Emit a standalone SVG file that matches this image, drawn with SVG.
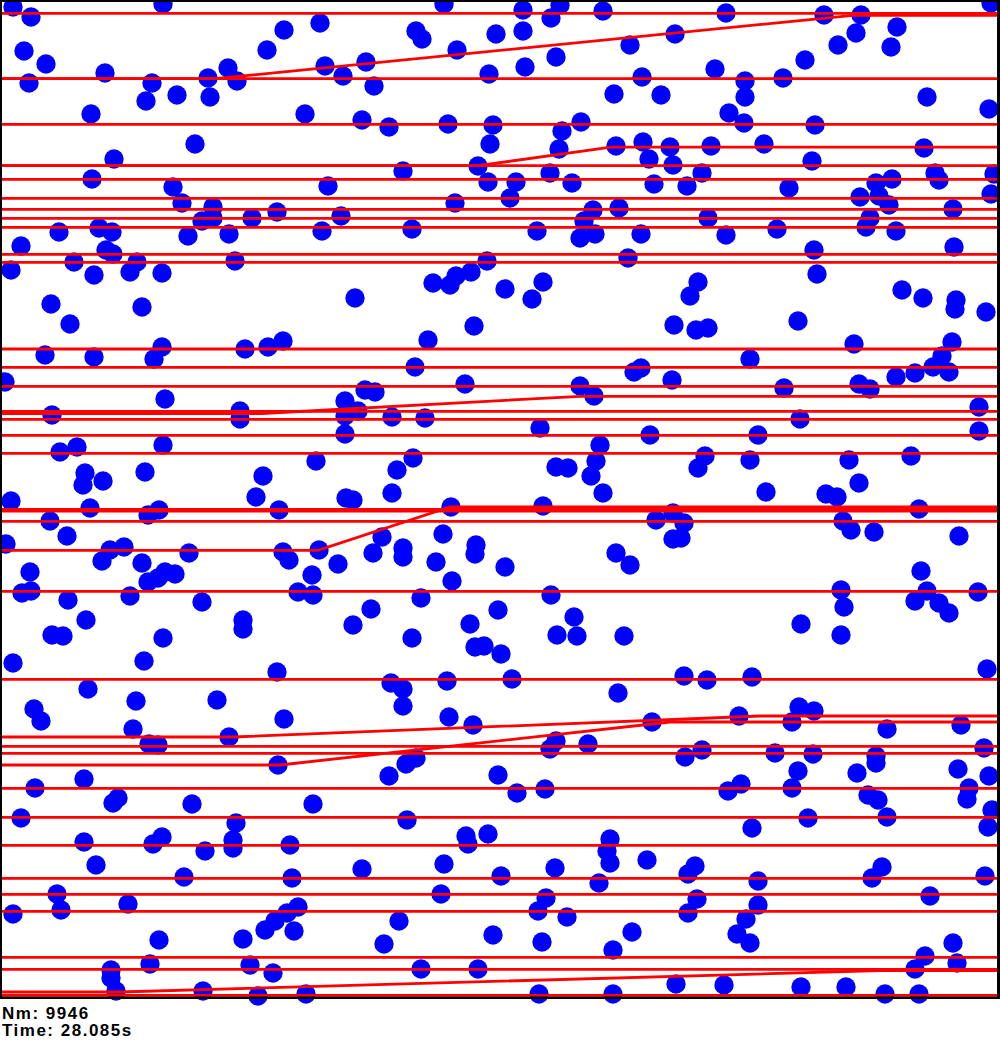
<svg xmlns="http://www.w3.org/2000/svg" width="1000" height="1040" viewBox="0 0 1000 1040">
<style>
.d{fill:#0000ff}
.l{stroke:#ff0000;stroke-width:2.8;fill:none}
.b{fill:#000}
.t{font-family:"Liberation Sans",Arial,sans-serif;font-weight:bold;font-size:17px;letter-spacing:1.5px;fill:#000}
</style>
<rect x="0" y="0" width="1000" height="1040" fill="#fff"/>
<g id="dots">
<circle class="d" r="9.7" cx="13" cy="7"/><circle class="d" r="9.7" cx="31" cy="17"/><circle class="d" r="9.7" cx="163" cy="4"/><circle class="d" r="9.7" cx="24" cy="51"/><circle class="d" r="9.7" cx="46" cy="64"/><circle class="d" r="9.7" cx="29" cy="83"/><circle class="d" r="9.7" cx="105" cy="73"/><circle class="d" r="9.7" cx="152" cy="83"/><circle class="d" r="9.7" cx="146" cy="101"/><circle class="d" r="9.7" cx="177" cy="95"/><circle class="d" r="9.7" cx="208" cy="78"/><circle class="d" r="9.7" cx="210" cy="97"/><circle class="d" r="9.7" cx="228" cy="68"/><circle class="d" r="9.7" cx="237" cy="81"/><circle class="d" r="9.7" cx="284" cy="30"/><circle class="d" r="9.7" cx="267" cy="50"/><circle class="d" r="9.7" cx="320" cy="23"/><circle class="d" r="9.7" cx="325" cy="66"/><circle class="d" r="9.7" cx="305" cy="114"/><circle class="d" r="9.7" cx="91" cy="114"/><circle class="d" r="9.7" cx="195" cy="144"/><circle class="d" r="9.7" cx="114" cy="159"/><circle class="d" r="9.7" cx="92" cy="179"/><circle class="d" r="9.7" cx="173" cy="187"/><circle class="d" r="9.7" cx="182" cy="203"/><circle class="d" r="9.7" cx="213" cy="207"/><circle class="d" r="9.7" cx="213" cy="218"/><circle class="d" r="9.7" cx="202" cy="221"/><circle class="d" r="9.7" cx="252" cy="218"/><circle class="d" r="9.7" cx="277" cy="212"/><circle class="d" r="9.7" cx="328" cy="186"/><circle class="d" r="9.7" cx="322" cy="231"/><circle class="d" r="9.7" cx="59" cy="232"/><circle class="d" r="9.7" cx="99" cy="228"/><circle class="d" r="9.7" cx="112" cy="232"/><circle class="d" r="9.7" cx="188" cy="236"/><circle class="d" r="9.7" cx="229" cy="234"/><circle class="d" r="9.7" cx="21" cy="246"/><circle class="d" r="9.7" cx="106" cy="250"/><circle class="d" r="9.7" cx="113" cy="254"/><circle class="d" r="9.7" cx="74" cy="262"/><circle class="d" r="9.7" cx="137" cy="262"/><circle class="d" r="9.7" cx="130" cy="272"/><circle class="d" r="9.7" cx="162" cy="273"/><circle class="d" r="9.7" cx="94" cy="275"/><circle class="d" r="9.7" cx="11" cy="270"/><circle class="d" r="9.7" cx="235" cy="261"/><circle class="d" r="9.7" cx="51" cy="304"/><circle class="d" r="9.7" cx="142" cy="307"/><circle class="d" r="9.7" cx="70" cy="324"/>
<circle class="d" r="9.7" cx="444" cy="4"/><circle class="d" r="9.7" cx="523" cy="10"/><circle class="d" r="9.7" cx="560" cy="5"/><circle class="d" r="9.7" cx="551" cy="18"/><circle class="d" r="9.7" cx="603" cy="11"/><circle class="d" r="9.7" cx="416" cy="31"/><circle class="d" r="9.7" cx="422" cy="39"/><circle class="d" r="9.7" cx="496" cy="34"/><circle class="d" r="9.7" cx="523" cy="31"/><circle class="d" r="9.7" cx="457" cy="50"/><circle class="d" r="9.7" cx="366" cy="62"/><circle class="d" r="9.7" cx="556" cy="57"/><circle class="d" r="9.7" cx="630" cy="45"/><circle class="d" r="9.7" cx="343" cy="76"/><circle class="d" r="9.7" cx="374" cy="86"/><circle class="d" r="9.7" cx="489" cy="74"/><circle class="d" r="9.7" cx="525" cy="67"/><circle class="d" r="9.7" cx="642" cy="77"/><circle class="d" r="9.7" cx="614" cy="94"/><circle class="d" r="9.7" cx="661" cy="95"/><circle class="d" r="9.7" cx="362" cy="120"/><circle class="d" r="9.7" cx="389" cy="127"/><circle class="d" r="9.7" cx="448" cy="124"/><circle class="d" r="9.7" cx="493" cy="125"/><circle class="d" r="9.7" cx="490" cy="144"/><circle class="d" r="9.7" cx="562" cy="131"/><circle class="d" r="9.7" cx="581" cy="122"/><circle class="d" r="9.7" cx="559" cy="149"/><circle class="d" r="9.7" cx="616" cy="146"/><circle class="d" r="9.7" cx="643" cy="142"/><circle class="d" r="9.7" cx="649" cy="159"/><circle class="d" r="9.7" cx="478" cy="166"/><circle class="d" r="9.7" cx="403" cy="171"/><circle class="d" r="9.7" cx="488" cy="182"/><circle class="d" r="9.7" cx="516" cy="182"/><circle class="d" r="9.7" cx="550" cy="173"/><circle class="d" r="9.7" cx="572" cy="183"/><circle class="d" r="9.7" cx="654" cy="184"/><circle class="d" r="9.7" cx="510" cy="198"/><circle class="d" r="9.7" cx="455" cy="203"/><circle class="d" r="9.7" cx="341" cy="216"/><circle class="d" r="9.7" cx="593" cy="210"/><circle class="d" r="9.7" cx="619" cy="208"/><circle class="d" r="9.7" cx="584" cy="221"/><circle class="d" r="9.7" cx="412" cy="229"/><circle class="d" r="9.7" cx="537" cy="231"/><circle class="d" r="9.7" cx="580" cy="238"/><circle class="d" r="9.7" cx="595" cy="234"/><circle class="d" r="9.7" cx="641" cy="234"/><circle class="d" r="9.7" cx="487" cy="261"/><circle class="d" r="9.7" cx="628" cy="258"/><circle class="d" r="9.7" cx="433" cy="283"/><circle class="d" r="9.7" cx="450" cy="285"/><circle class="d" r="9.7" cx="456" cy="276"/><circle class="d" r="9.7" cx="471" cy="272"/><circle class="d" r="9.7" cx="505" cy="289"/><circle class="d" r="9.7" cx="543" cy="282"/><circle class="d" r="9.7" cx="532" cy="299"/><circle class="d" r="9.7" cx="355" cy="298"/><circle class="d" r="9.7" cx="474" cy="326"/>
<circle class="d" r="9.7" cx="726" cy="13"/><circle class="d" r="9.7" cx="824" cy="15"/><circle class="d" r="9.7" cx="861" cy="15"/><circle class="d" r="9.7" cx="856" cy="33"/><circle class="d" r="9.7" cx="897" cy="27"/><circle class="d" r="9.7" cx="891" cy="47"/><circle class="d" r="9.7" cx="838" cy="45"/><circle class="d" r="9.7" cx="805" cy="60"/><circle class="d" r="9.7" cx="675" cy="34"/><circle class="d" r="9.7" cx="991" cy="3"/><circle class="d" r="9.7" cx="715" cy="69"/><circle class="d" r="9.7" cx="745" cy="81"/><circle class="d" r="9.7" cx="745" cy="97"/><circle class="d" r="9.7" cx="783" cy="78"/><circle class="d" r="9.7" cx="729" cy="113"/><circle class="d" r="9.7" cx="744" cy="123"/><circle class="d" r="9.7" cx="815" cy="125"/><circle class="d" r="9.7" cx="927" cy="97"/><circle class="d" r="9.7" cx="989" cy="109"/><circle class="d" r="9.7" cx="670" cy="147"/><circle class="d" r="9.7" cx="711" cy="146"/><circle class="d" r="9.7" cx="764" cy="144"/><circle class="d" r="9.7" cx="812" cy="161"/><circle class="d" r="9.7" cx="924" cy="148"/><circle class="d" r="9.7" cx="673" cy="165"/><circle class="d" r="9.7" cx="702" cy="173"/><circle class="d" r="9.7" cx="687" cy="186"/><circle class="d" r="9.7" cx="789" cy="188"/><circle class="d" r="9.7" cx="876" cy="183"/><circle class="d" r="9.7" cx="892" cy="179"/><circle class="d" r="9.7" cx="935" cy="173"/><circle class="d" r="9.7" cx="939" cy="180"/><circle class="d" r="9.7" cx="994" cy="174"/><circle class="d" r="9.7" cx="991" cy="194"/><circle class="d" r="9.7" cx="860" cy="197"/><circle class="d" r="9.7" cx="879" cy="196"/><circle class="d" r="9.7" cx="889" cy="205"/><circle class="d" r="9.7" cx="953" cy="209"/><circle class="d" r="9.7" cx="870" cy="218"/><circle class="d" r="9.7" cx="708" cy="218"/><circle class="d" r="9.7" cx="726" cy="235"/><circle class="d" r="9.7" cx="777" cy="229"/><circle class="d" r="9.7" cx="866" cy="227"/><circle class="d" r="9.7" cx="896" cy="231"/><circle class="d" r="9.7" cx="814" cy="250"/><circle class="d" r="9.7" cx="954" cy="247"/><circle class="d" r="9.7" cx="817" cy="274"/><circle class="d" r="9.7" cx="698" cy="282"/><circle class="d" r="9.7" cx="690" cy="296"/><circle class="d" r="9.7" cx="902" cy="290"/><circle class="d" r="9.7" cx="923" cy="298"/><circle class="d" r="9.7" cx="956" cy="300"/><circle class="d" r="9.7" cx="955" cy="309"/><circle class="d" r="9.7" cx="986" cy="312"/><circle class="d" r="9.7" cx="798" cy="321"/><circle class="d" r="9.7" cx="674" cy="325"/><circle class="d" r="9.7" cx="696" cy="330"/><circle class="d" r="9.7" cx="708" cy="328"/>
<circle class="d" r="9.7" cx="45" cy="355"/><circle class="d" r="9.7" cx="94" cy="357"/><circle class="d" r="9.7" cx="162" cy="347"/><circle class="d" r="9.7" cx="154" cy="359"/><circle class="d" r="9.7" cx="245" cy="349"/><circle class="d" r="9.7" cx="268" cy="347"/><circle class="d" r="9.7" cx="283" cy="341"/><circle class="d" r="9.7" cx="5" cy="382"/><circle class="d" r="9.7" cx="165" cy="399"/><circle class="d" r="9.7" cx="52" cy="415"/><circle class="d" r="9.7" cx="240" cy="411"/><circle class="d" r="9.7" cx="240" cy="419"/><circle class="d" r="9.7" cx="163" cy="445"/><circle class="d" r="9.7" cx="60" cy="452"/><circle class="d" r="9.7" cx="77" cy="447"/><circle class="d" r="9.7" cx="316" cy="461"/><circle class="d" r="9.7" cx="85" cy="473"/><circle class="d" r="9.7" cx="83" cy="485"/><circle class="d" r="9.7" cx="103" cy="481"/><circle class="d" r="9.7" cx="145" cy="472"/><circle class="d" r="9.7" cx="263" cy="476"/><circle class="d" r="9.7" cx="256" cy="497"/><circle class="d" r="9.7" cx="11" cy="501"/><circle class="d" r="9.7" cx="90" cy="508"/><circle class="d" r="9.7" cx="148" cy="515"/><circle class="d" r="9.7" cx="159" cy="510"/><circle class="d" r="9.7" cx="279" cy="510"/><circle class="d" r="9.7" cx="50" cy="521"/><circle class="d" r="9.7" cx="6" cy="544"/><circle class="d" r="9.7" cx="67" cy="536"/><circle class="d" r="9.7" cx="110" cy="550"/><circle class="d" r="9.7" cx="124" cy="547"/><circle class="d" r="9.7" cx="102" cy="561"/><circle class="d" r="9.7" cx="142" cy="563"/><circle class="d" r="9.7" cx="189" cy="553"/><circle class="d" r="9.7" cx="283" cy="552"/><circle class="d" r="9.7" cx="289" cy="560"/><circle class="d" r="9.7" cx="319" cy="550"/><circle class="d" r="9.7" cx="30" cy="572"/><circle class="d" r="9.7" cx="22" cy="593"/><circle class="d" r="9.7" cx="31" cy="591"/><circle class="d" r="9.7" cx="148" cy="582"/><circle class="d" r="9.7" cx="158" cy="578"/><circle class="d" r="9.7" cx="165" cy="572"/><circle class="d" r="9.7" cx="175" cy="574"/><circle class="d" r="9.7" cx="312" cy="575"/><circle class="d" r="9.7" cx="298" cy="592"/><circle class="d" r="9.7" cx="313" cy="595"/><circle class="d" r="9.7" cx="68" cy="600"/><circle class="d" r="9.7" cx="130" cy="596"/><circle class="d" r="9.7" cx="202" cy="602"/><circle class="d" r="9.7" cx="86" cy="620"/><circle class="d" r="9.7" cx="243" cy="620"/><circle class="d" r="9.7" cx="243" cy="629"/><circle class="d" r="9.7" cx="52" cy="635"/><circle class="d" r="9.7" cx="63" cy="636"/><circle class="d" r="9.7" cx="163" cy="638"/><circle class="d" r="9.7" cx="13" cy="663"/><circle class="d" r="9.7" cx="144" cy="661"/>
<circle class="d" r="9.7" cx="428" cy="340"/><circle class="d" r="9.7" cx="415" cy="367"/><circle class="d" r="9.7" cx="365" cy="390"/><circle class="d" r="9.7" cx="375" cy="392"/><circle class="d" r="9.7" cx="465" cy="384"/><circle class="d" r="9.7" cx="345" cy="401"/><circle class="d" r="9.7" cx="345" cy="416"/><circle class="d" r="9.7" cx="358" cy="411"/><circle class="d" r="9.7" cx="345" cy="434"/><circle class="d" r="9.7" cx="392" cy="417"/><circle class="d" r="9.7" cx="425" cy="418"/><circle class="d" r="9.7" cx="540" cy="428"/><circle class="d" r="9.7" cx="580" cy="386"/><circle class="d" r="9.7" cx="594" cy="396"/><circle class="d" r="9.7" cx="634" cy="372"/><circle class="d" r="9.7" cx="641" cy="368"/><circle class="d" r="9.7" cx="650" cy="435"/><circle class="d" r="9.7" cx="600" cy="445"/><circle class="d" r="9.7" cx="596" cy="461"/><circle class="d" r="9.7" cx="591" cy="476"/><circle class="d" r="9.7" cx="603" cy="493"/><circle class="d" r="9.7" cx="556" cy="467"/><circle class="d" r="9.7" cx="568" cy="468"/><circle class="d" r="9.7" cx="413" cy="458"/><circle class="d" r="9.7" cx="397" cy="470"/><circle class="d" r="9.7" cx="392" cy="493"/><circle class="d" r="9.7" cx="346" cy="498"/><circle class="d" r="9.7" cx="353" cy="500"/><circle class="d" r="9.7" cx="451" cy="507"/><circle class="d" r="9.7" cx="543" cy="506"/><circle class="d" r="9.7" cx="656" cy="520"/><circle class="d" r="9.7" cx="443" cy="534"/><circle class="d" r="9.7" cx="382" cy="537"/><circle class="d" r="9.7" cx="373" cy="553"/><circle class="d" r="9.7" cx="403" cy="548"/><circle class="d" r="9.7" cx="403" cy="557"/><circle class="d" r="9.7" cx="338" cy="564"/><circle class="d" r="9.7" cx="436" cy="562"/><circle class="d" r="9.7" cx="476" cy="545"/><circle class="d" r="9.7" cx="475" cy="554"/><circle class="d" r="9.7" cx="505" cy="567"/><circle class="d" r="9.7" cx="452" cy="581"/><circle class="d" r="9.7" cx="616" cy="553"/><circle class="d" r="9.7" cx="630" cy="565"/><circle class="d" r="9.7" cx="421" cy="598"/><circle class="d" r="9.7" cx="551" cy="595"/><circle class="d" r="9.7" cx="371" cy="609"/><circle class="d" r="9.7" cx="353" cy="625"/><circle class="d" r="9.7" cx="412" cy="638"/><circle class="d" r="9.7" cx="470" cy="624"/><circle class="d" r="9.7" cx="498" cy="610"/><circle class="d" r="9.7" cx="574" cy="617"/><circle class="d" r="9.7" cx="557" cy="635"/><circle class="d" r="9.7" cx="577" cy="636"/><circle class="d" r="9.7" cx="624" cy="636"/><circle class="d" r="9.7" cx="475" cy="647"/><circle class="d" r="9.7" cx="484" cy="646"/><circle class="d" r="9.7" cx="501" cy="654"/>
<circle class="d" r="9.7" cx="854" cy="344"/><circle class="d" r="9.7" cx="952" cy="342"/><circle class="d" r="9.7" cx="942" cy="356"/><circle class="d" r="9.7" cx="933" cy="367"/><circle class="d" r="9.7" cx="949" cy="372"/><circle class="d" r="9.7" cx="915" cy="373"/><circle class="d" r="9.7" cx="896" cy="377"/><circle class="d" r="9.7" cx="750" cy="359"/><circle class="d" r="9.7" cx="672" cy="380"/><circle class="d" r="9.7" cx="784" cy="388"/><circle class="d" r="9.7" cx="859" cy="384"/><circle class="d" r="9.7" cx="870" cy="389"/><circle class="d" r="9.7" cx="979" cy="407"/><circle class="d" r="9.7" cx="979" cy="431"/><circle class="d" r="9.7" cx="800" cy="419"/><circle class="d" r="9.7" cx="758" cy="435"/><circle class="d" r="9.7" cx="705" cy="456"/><circle class="d" r="9.7" cx="698" cy="468"/><circle class="d" r="9.7" cx="750" cy="460"/><circle class="d" r="9.7" cx="849" cy="460"/><circle class="d" r="9.7" cx="911" cy="456"/><circle class="d" r="9.7" cx="859" cy="483"/><circle class="d" r="9.7" cx="766" cy="492"/><circle class="d" r="9.7" cx="826" cy="494"/><circle class="d" r="9.7" cx="837" cy="497"/><circle class="d" r="9.7" cx="919" cy="509"/><circle class="d" r="9.7" cx="673" cy="513"/><circle class="d" r="9.7" cx="684" cy="523"/><circle class="d" r="9.7" cx="673" cy="539"/><circle class="d" r="9.7" cx="681" cy="538"/><circle class="d" r="9.7" cx="843" cy="521"/><circle class="d" r="9.7" cx="851" cy="530"/><circle class="d" r="9.7" cx="874" cy="532"/><circle class="d" r="9.7" cx="959" cy="536"/><circle class="d" r="9.7" cx="921" cy="571"/><circle class="d" r="9.7" cx="841" cy="590"/><circle class="d" r="9.7" cx="844" cy="607"/><circle class="d" r="9.7" cx="927" cy="591"/><circle class="d" r="9.7" cx="915" cy="601"/><circle class="d" r="9.7" cx="939" cy="603"/><circle class="d" r="9.7" cx="949" cy="613"/><circle class="d" r="9.7" cx="978" cy="592"/><circle class="d" r="9.7" cx="801" cy="624"/><circle class="d" r="9.7" cx="841" cy="635"/>
<circle class="d" r="9.7" cx="277" cy="672"/><circle class="d" r="9.7" cx="88" cy="689"/><circle class="d" r="9.7" cx="136" cy="701"/><circle class="d" r="9.7" cx="217" cy="700"/><circle class="d" r="9.7" cx="34" cy="709"/><circle class="d" r="9.7" cx="41" cy="721"/><circle class="d" r="9.7" cx="133" cy="729"/><circle class="d" r="9.7" cx="284" cy="719"/><circle class="d" r="9.7" cx="229" cy="737"/><circle class="d" r="9.7" cx="149" cy="744"/><circle class="d" r="9.7" cx="158" cy="745"/><circle class="d" r="9.7" cx="278" cy="765"/><circle class="d" r="9.7" cx="84" cy="779"/><circle class="d" r="9.7" cx="35" cy="788"/><circle class="d" r="9.7" cx="118" cy="798"/><circle class="d" r="9.7" cx="113" cy="803"/><circle class="d" r="9.7" cx="192" cy="804"/><circle class="d" r="9.7" cx="313" cy="804"/><circle class="d" r="9.7" cx="21" cy="818"/><circle class="d" r="9.7" cx="236" cy="823"/><circle class="d" r="9.7" cx="84" cy="842"/><circle class="d" r="9.7" cx="153" cy="844"/><circle class="d" r="9.7" cx="162" cy="837"/><circle class="d" r="9.7" cx="233" cy="840"/><circle class="d" r="9.7" cx="233" cy="848"/><circle class="d" r="9.7" cx="205" cy="851"/><circle class="d" r="9.7" cx="290" cy="845"/><circle class="d" r="9.7" cx="96" cy="865"/><circle class="d" r="9.7" cx="184" cy="877"/><circle class="d" r="9.7" cx="292" cy="878"/><circle class="d" r="9.7" cx="57" cy="894"/><circle class="d" r="9.7" cx="61" cy="910"/><circle class="d" r="9.7" cx="128" cy="904"/><circle class="d" r="9.7" cx="13" cy="914"/><circle class="d" r="9.7" cx="298" cy="907"/><circle class="d" r="9.7" cx="287" cy="913"/><circle class="d" r="9.7" cx="275" cy="921"/><circle class="d" r="9.7" cx="265" cy="930"/><circle class="d" r="9.7" cx="294" cy="931"/><circle class="d" r="9.7" cx="159" cy="940"/><circle class="d" r="9.7" cx="243" cy="939"/><circle class="d" r="9.7" cx="111" cy="970"/><circle class="d" r="9.7" cx="111" cy="978"/><circle class="d" r="9.7" cx="116" cy="991"/><circle class="d" r="9.7" cx="150" cy="964"/><circle class="d" r="9.7" cx="250" cy="965"/><circle class="d" r="9.7" cx="273" cy="973"/><circle class="d" r="9.7" cx="203" cy="991"/><circle class="d" r="9.7" cx="258" cy="996"/><circle class="d" r="9.7" cx="306" cy="994"/>
<circle class="d" r="9.7" cx="391" cy="683"/><circle class="d" r="9.7" cx="403" cy="689"/><circle class="d" r="9.7" cx="403" cy="706"/><circle class="d" r="9.7" cx="447" cy="681"/><circle class="d" r="9.7" cx="512" cy="679"/><circle class="d" r="9.7" cx="618" cy="693"/><circle class="d" r="9.7" cx="449" cy="717"/><circle class="d" r="9.7" cx="473" cy="725"/><circle class="d" r="9.7" cx="556" cy="741"/><circle class="d" r="9.7" cx="550" cy="749"/><circle class="d" r="9.7" cx="588" cy="744"/><circle class="d" r="9.7" cx="652" cy="722"/><circle class="d" r="9.7" cx="416" cy="758"/><circle class="d" r="9.7" cx="406" cy="764"/><circle class="d" r="9.7" cx="389" cy="776"/><circle class="d" r="9.7" cx="498" cy="775"/><circle class="d" r="9.7" cx="517" cy="793"/><circle class="d" r="9.7" cx="545" cy="789"/><circle class="d" r="9.7" cx="407" cy="820"/><circle class="d" r="9.7" cx="466" cy="836"/><circle class="d" r="9.7" cx="468" cy="844"/><circle class="d" r="9.7" cx="488" cy="834"/><circle class="d" r="9.7" cx="610" cy="839"/><circle class="d" r="9.7" cx="607" cy="851"/><circle class="d" r="9.7" cx="610" cy="863"/><circle class="d" r="9.7" cx="647" cy="860"/><circle class="d" r="9.7" cx="362" cy="869"/><circle class="d" r="9.7" cx="444" cy="864"/><circle class="d" r="9.7" cx="501" cy="876"/><circle class="d" r="9.7" cx="555" cy="868"/><circle class="d" r="9.7" cx="599" cy="883"/><circle class="d" r="9.7" cx="441" cy="894"/><circle class="d" r="9.7" cx="546" cy="898"/><circle class="d" r="9.7" cx="538" cy="911"/><circle class="d" r="9.7" cx="567" cy="917"/><circle class="d" r="9.7" cx="399" cy="921"/><circle class="d" r="9.7" cx="384" cy="944"/><circle class="d" r="9.7" cx="493" cy="935"/><circle class="d" r="9.7" cx="542" cy="942"/><circle class="d" r="9.7" cx="613" cy="950"/><circle class="d" r="9.7" cx="632" cy="932"/><circle class="d" r="9.7" cx="421" cy="969"/><circle class="d" r="9.7" cx="478" cy="969"/><circle class="d" r="9.7" cx="539" cy="994"/><circle class="d" r="9.7" cx="613" cy="994"/>
<circle class="d" r="9.7" cx="684" cy="676"/><circle class="d" r="9.7" cx="707" cy="680"/><circle class="d" r="9.7" cx="752" cy="677"/><circle class="d" r="9.7" cx="987" cy="669"/><circle class="d" r="9.7" cx="739" cy="716"/><circle class="d" r="9.7" cx="799" cy="707"/><circle class="d" r="9.7" cx="814" cy="711"/><circle class="d" r="9.7" cx="792" cy="722"/><circle class="d" r="9.7" cx="887" cy="729"/><circle class="d" r="9.7" cx="961" cy="725"/><circle class="d" r="9.7" cx="685" cy="757"/><circle class="d" r="9.7" cx="702" cy="750"/><circle class="d" r="9.7" cx="775" cy="753"/><circle class="d" r="9.7" cx="813" cy="754"/><circle class="d" r="9.7" cx="876" cy="756"/><circle class="d" r="9.7" cx="876" cy="763"/><circle class="d" r="9.7" cx="984" cy="748"/><circle class="d" r="9.7" cx="798" cy="771"/><circle class="d" r="9.7" cx="857" cy="773"/><circle class="d" r="9.7" cx="958" cy="769"/><circle class="d" r="9.7" cx="989" cy="776"/><circle class="d" r="9.7" cx="728" cy="791"/><circle class="d" r="9.7" cx="741" cy="784"/><circle class="d" r="9.7" cx="792" cy="788"/><circle class="d" r="9.7" cx="868" cy="795"/><circle class="d" r="9.7" cx="878" cy="800"/><circle class="d" r="9.7" cx="969" cy="788"/><circle class="d" r="9.7" cx="967" cy="799"/><circle class="d" r="9.7" cx="808" cy="818"/><circle class="d" r="9.7" cx="752" cy="828"/><circle class="d" r="9.7" cx="887" cy="817"/><circle class="d" r="9.7" cx="992" cy="810"/><circle class="d" r="9.7" cx="988" cy="827"/><circle class="d" r="9.7" cx="695" cy="866"/><circle class="d" r="9.7" cx="688" cy="874"/><circle class="d" r="9.7" cx="758" cy="881"/><circle class="d" r="9.7" cx="882" cy="867"/><circle class="d" r="9.7" cx="872" cy="878"/><circle class="d" r="9.7" cx="985" cy="876"/><circle class="d" r="9.7" cx="697" cy="899"/><circle class="d" r="9.7" cx="688" cy="913"/><circle class="d" r="9.7" cx="758" cy="905"/><circle class="d" r="9.7" cx="930" cy="896"/><circle class="d" r="9.7" cx="746" cy="919"/><circle class="d" r="9.7" cx="737" cy="934"/><circle class="d" r="9.7" cx="750" cy="943"/><circle class="d" r="9.7" cx="953" cy="943"/><circle class="d" r="9.7" cx="925" cy="956"/><circle class="d" r="9.7" cx="915" cy="969"/><circle class="d" r="9.7" cx="957" cy="963"/><circle class="d" r="9.7" cx="676" cy="984"/><circle class="d" r="9.7" cx="724" cy="985"/><circle class="d" r="9.7" cx="801" cy="987"/><circle class="d" r="9.7" cx="846" cy="987"/><circle class="d" r="9.7" cx="885" cy="994"/><circle class="d" r="9.7" cx="919" cy="994"/>
</g>
<g id="lines">
<line class="l" x1="0" y1="13.3" x2="998" y2="13.3"/>
<line class="l" x1="0" y1="78.7" x2="998" y2="78.7"/>
<polyline class="l" points="0,78.7 215,78.7 853,15.3 998,15.3"/>
<line class="l" x1="0" y1="124.3" x2="998" y2="124.3"/>
<line class="l" x1="0" y1="165.7" x2="998" y2="165.7"/>
<polyline class="l" points="0,165.7 478,165.7 611,147.2 998,147.2"/>
<line class="l" x1="0" y1="179.3" x2="998" y2="179.3"/>
<line class="l" x1="0" y1="198.3" x2="998" y2="198.3"/>
<line class="l" x1="0" y1="209.3" x2="998" y2="209.3"/>
<line class="l" x1="0" y1="218.3" x2="998" y2="218.3"/>
<line class="l" x1="0" y1="227.3" x2="998" y2="227.3"/>
<line class="l" x1="0" y1="254.3" x2="998" y2="254.3"/>
<line class="l" x1="0" y1="262.3" x2="998" y2="262.3"/>
<line class="l" x1="0" y1="349" x2="998" y2="349"/>
<line class="l" x1="0" y1="367.3" x2="998" y2="367.3"/>
<line class="l" x1="0" y1="386.3" x2="998" y2="386.3"/>
<polyline class="l" points="0,413.5 262,413.5 580,396.3 998,396.3"/>
<line class="l" x1="0" y1="411.3" x2="998" y2="411.3"/>
<line class="l" x1="0" y1="419.3" x2="998" y2="419.3"/>
<line class="l" x1="0" y1="435.3" x2="998" y2="435.3"/>
<line class="l" x1="0" y1="453.3" x2="998" y2="453.3"/>
<polyline class="l" points="0,550.3 318,550.3 450,507 998,507"/>
<line class="l" x1="0" y1="509.5" x2="998" y2="509.5"/>
<line class="l" x1="0" y1="511" x2="998" y2="511"/>
<line class="l" x1="0" y1="521.3" x2="998" y2="521.3"/>
<line class="l" x1="0" y1="591.3" x2="998" y2="591.3"/>
<line class="l" x1="0" y1="679.3" x2="998" y2="679.3"/>
<polyline class="l" points="0,737 233,737 760,716 998,716"/>
<polyline class="l" points="0,765 280,765 670,722 998,722"/>
<line class="l" x1="0" y1="746.3" x2="998" y2="746.3"/>
<line class="l" x1="0" y1="753.3" x2="998" y2="753.3"/>
<line class="l" x1="0" y1="788.3" x2="998" y2="788.3"/>
<line class="l" x1="0" y1="817.3" x2="998" y2="817.3"/>
<line class="l" x1="0" y1="845.3" x2="998" y2="845.3"/>
<line class="l" x1="0" y1="878.3" x2="998" y2="878.3"/>
<line class="l" x1="0" y1="894.3" x2="998" y2="894.3"/>
<line class="l" x1="0" y1="911.3" x2="998" y2="911.3"/>
<line class="l" x1="0" y1="957.3" x2="998" y2="957.3"/>
<line class="l" x1="0" y1="969.3" x2="998" y2="969.3"/>
<polyline class="l" points="0,992 120,992 880,970.5 998,970.5"/>
<line class="l" x1="0" y1="995.3" x2="998" y2="995.3"/>
</g>
<g id="frame">
<rect class="b" x="0" y="0" width="1000" height="2"/>
<rect class="b" x="0" y="0" width="2" height="999"/>
<rect class="b" x="997" y="0" width="3" height="999"/>
<rect class="b" x="0" y="996.6" width="1000" height="2.4"/>
</g>
<text class="t" x="2" y="1019">Nm: 9946</text>
<text class="t" x="2" y="1036">Time: 28.085s</text>
</svg>
